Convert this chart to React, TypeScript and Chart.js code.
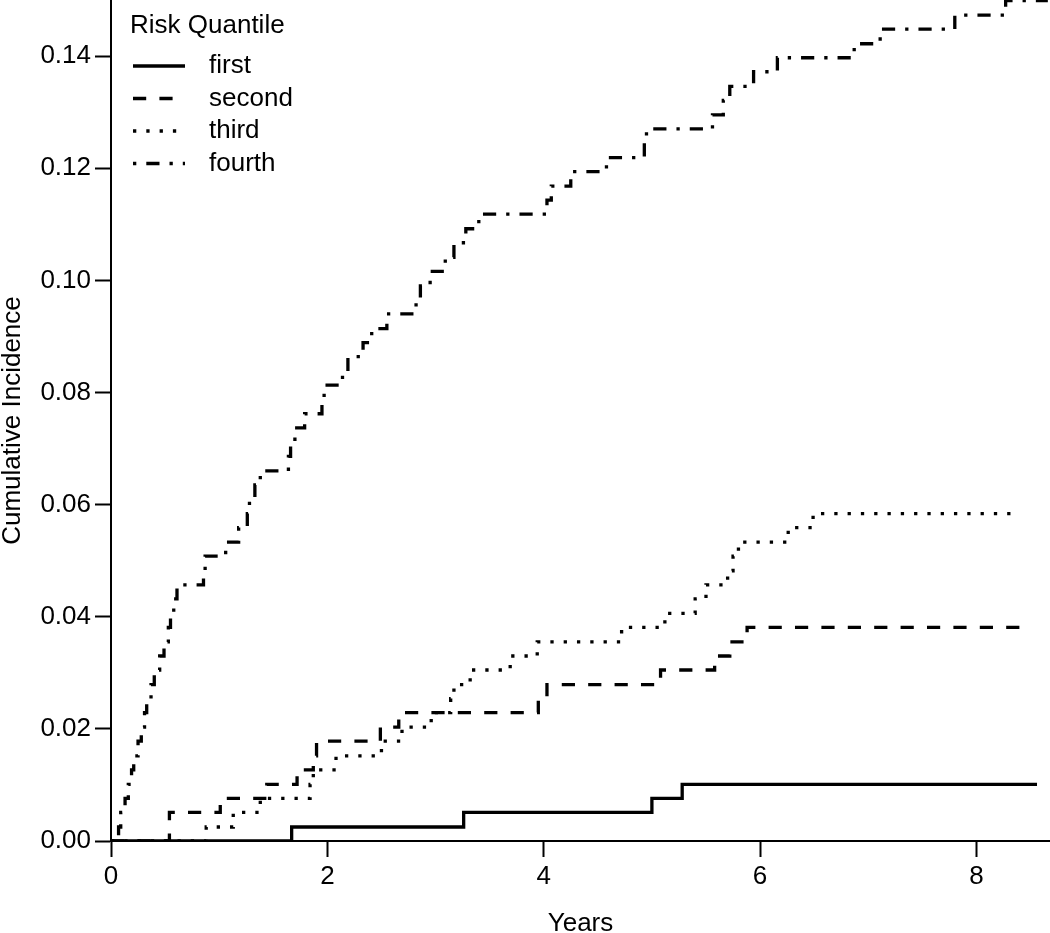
import { useEffect, useRef } from 'react';
import { Chart, registerables } from 'chart.js';

Chart.register(...registerables);

const FONT = "'Liberation Sans', Arial, Helvetica, sans-serif";

// risk quantile step curves: event times (years) and cumulative incidence
const seriesLabels = ['first', 'second', 'third', 'fourth'];
const legendTitle = 'Risk Quantile';

const firstTimes = [0, 1.67, 3.26, 5.0, 5.28, 8.56];
const firstValues = [0, 0.0025, 0.0051, 0.0076, 0.0101, 0.0101];

const secondTimes = [0, 0.54, 1.01, 1.44, 1.72, 1.87, 1.9, 2.49, 2.66, 3.95, 4.03, 5.08, 5.58, 5.72, 5.88, 8.4];
const secondValues = [0, 0.0051, 0.0076, 0.0101, 0.0127, 0.0152, 0.0178, 0.0203, 0.0229, 0.0254, 0.0279, 0.0305, 0.033, 0.0355, 0.0381, 0.0381];

const thirdTimes = [0, 0.88, 1.13, 1.38, 1.84, 1.87, 2.08, 2.5, 2.69, 2.96, 3.14, 3.17, 3.32, 3.69, 3.94, 4.72, 5.12, 5.4, 5.5, 5.7, 5.75, 5.8, 6.26, 6.49, 8.4];
const thirdValues = [0, 0.0025, 0.0051, 0.0076, 0.0101, 0.0127, 0.0152, 0.0178, 0.0203, 0.0229, 0.0254, 0.0279, 0.0305, 0.033, 0.0355, 0.0381, 0.0406, 0.0432, 0.0457, 0.0482, 0.0508, 0.0533, 0.0559, 0.0584, 0.0584];

const fourthTimes = [
  0, 0.07, 0.09, 0.13, 0.16, 0.19, 0.21, 0.25, 0.28, 0.31,
  0.33, 0.37, 0.4, 0.45, 0.49, 0.53, 0.55, 0.58, 0.61, 0.855,
  0.87, 1.06, 1.18, 1.26, 1.28, 1.33, 1.38, 1.64, 1.66, 1.7,
  1.79, 1.95, 1.97, 2.14, 2.19, 2.33, 2.41, 2.55, 2.82, 2.86,
  2.95, 3.09, 3.17, 3.28, 3.4, 4.03, 4.07, 4.25, 4.58, 4.93,
  4.95, 5.56, 5.66, 5.72, 5.94, 6.16, 6.87, 7.11, 7.8, 8.27,
  8.66,
];
const fourthValues = [
  0, 0.0025, 0.0051, 0.0076, 0.0101, 0.0127, 0.0152, 0.0178, 0.0203, 0.0229,
  0.0254, 0.0279, 0.0305, 0.033, 0.0355, 0.0381, 0.0406, 0.0432, 0.0457, 0.0483,
  0.0508, 0.0533, 0.0559, 0.0584, 0.0609, 0.0635, 0.066, 0.0686, 0.0711, 0.0737,
  0.0762, 0.0787, 0.0813, 0.0838, 0.0864, 0.0889, 0.0914, 0.094, 0.0965, 0.099,
  0.1016, 0.1041, 0.1067, 0.1092, 0.1118, 0.1143, 0.1168, 0.1194, 0.1219, 0.1245,
  0.127, 0.1295, 0.1321, 0.1346, 0.1372, 0.1397, 0.1422, 0.1448, 0.1473, 0.1499,
  0.1499,
];

const xTickValues = [0, 2, 4, 6, 8];
const yTickValues = [0, 0.02, 0.04, 0.06, 0.08, 0.1, 0.12, 0.14];
const yTickLabels = ['0.00', '0.02', '0.04', '0.06', '0.08', '0.10', '0.12', '0.14'];

const LW = 3.3;
const dashes: number[][] = [
  [],
  [13.2, 13.2],
  [3.3, 10],
  [3.3, 10, 13.2, 10],
];

const toPoints = (xs: number[], ys: number[]) => xs.map((x, i) => ({ x, y: ys[i] }));

// legend drawn inside the plot, top-left, using each dataset's own stroke
const innerLegend = {
  id: 'innerLegend',
  afterDraw(chart: Chart) {
    const { ctx, chartArea } = chart;
    const left = chartArea.left;
    ctx.save();
    ctx.fillStyle = '#000';
    ctx.font = `26px ${FONT}`;
    ctx.textAlign = 'left';
    ctx.textBaseline = 'alphabetic';
    ctx.fillText(legendTitle, left + 19, 33);
    chart.data.datasets.forEach((ds: any, i: number) => {
      const y = 66 + i * 32.5;
      ctx.strokeStyle = ds.borderColor;
      ctx.lineWidth = ds.borderWidth;
      ctx.lineCap = 'butt';
      ctx.setLineDash(ds.borderDash || []);
      ctx.beginPath();
      ctx.moveTo(left + 22, y);
      ctx.lineTo(left + 74, y);
      ctx.stroke();
      ctx.setLineDash([]);
      ctx.textBaseline = 'middle';
      ctx.fillText(ds.label, left + 98, y);
    });
    ctx.restore();
  },
};

export default function App() {
  const canvasRef = useRef<HTMLCanvasElement>(null);
  const chartRef = useRef<Chart | null>(null);

  useEffect(() => {
    if (!canvasRef.current) return;
    if (chartRef.current) chartRef.current.destroy();

    Chart.defaults.font.family = FONT;
    Chart.defaults.color = '#000';

    const series = [
      toPoints(firstTimes, firstValues),
      toPoints(secondTimes, secondValues),
      toPoints(thirdTimes, thirdValues),
      toPoints(fourthTimes, fourthValues),
    ];

    chartRef.current = new Chart(canvasRef.current, {
      type: 'line',
      data: {
        datasets: series.map((pts, i) => ({
          label: seriesLabels[i],
          data: pts,
          stepped: 'before' as const,
          borderColor: '#000',
          borderWidth: LW,
          borderDash: dashes[i],
          borderCapStyle: 'butt' as const,
          pointRadius: 0,
          fill: false,
        })),
      },
      options: {
        responsive: true,
        maintainAspectRatio: false,
        animation: false,
        layout: { padding: 0 },
        plugins: {
          legend: { display: false },
          tooltip: { enabled: false },
        },
        scales: {
          x: {
            type: 'linear',
            min: 0,
            max: 8.68,
            afterBuildTicks: (s: any) => {
              s.ticks = xTickValues.map((v) => ({ value: v }));
            },
            afterFit: (s: any) => {
              s.height = 92;
              s.paddingLeft = 0;
              s.paddingRight = 0;
            },
            ticks: {
              color: '#000',
              font: { size: 26 },
              padding: 4,
              maxRotation: 0,
              callback: (v: any) => String(v),
            },
            grid: {
              drawOnChartArea: false,
              drawTicks: true,
              tickLength: 16,
              tickWidth: 2,
              tickColor: '#000',
            },
            border: { display: true, color: '#000', width: 2 },
            title: {
              display: true,
              text: 'Years',
              color: '#000',
              font: { size: 26, lineHeight: 1 },
              padding: { top: 0, bottom: -4 },
            },
          },
          y: {
            type: 'linear',
            min: 0,
            max: 0.15,
            afterBuildTicks: (s: any) => {
              s.ticks = yTickValues.map((v) => ({ value: v }));
            },
            afterFit: (s: any) => {
              s.width = 111;
              s.paddingTop = 0;
              s.paddingBottom = 0;
            },
            ticks: {
              color: '#000',
              font: { size: 26 },
              padding: 4,
              callback: (_v: any, i: number) => yTickLabels[i],
            },
            grid: {
              drawOnChartArea: false,
              drawTicks: true,
              tickLength: 16,
              tickWidth: 2,
              tickColor: '#000',
            },
            border: { display: true, color: '#000', width: 2 },
            title: {
              display: true,
              text: 'Cumulative Incidence',
              color: '#000',
              font: { size: 26, lineHeight: 1 },
              padding: { top: 0, bottom: 0 },
            },
          },
        },
      },
      plugins: [innerLegend],
    });

    return () => {
      if (chartRef.current) {
        chartRef.current.destroy();
        chartRef.current = null;
      }
    };
  }, []);

  return (
    <div style={{ position: 'fixed', left: 0, top: 0, width: 1050, height: 933, background: '#fff' }}>
      <canvas ref={canvasRef} />
    </div>
  );
}
